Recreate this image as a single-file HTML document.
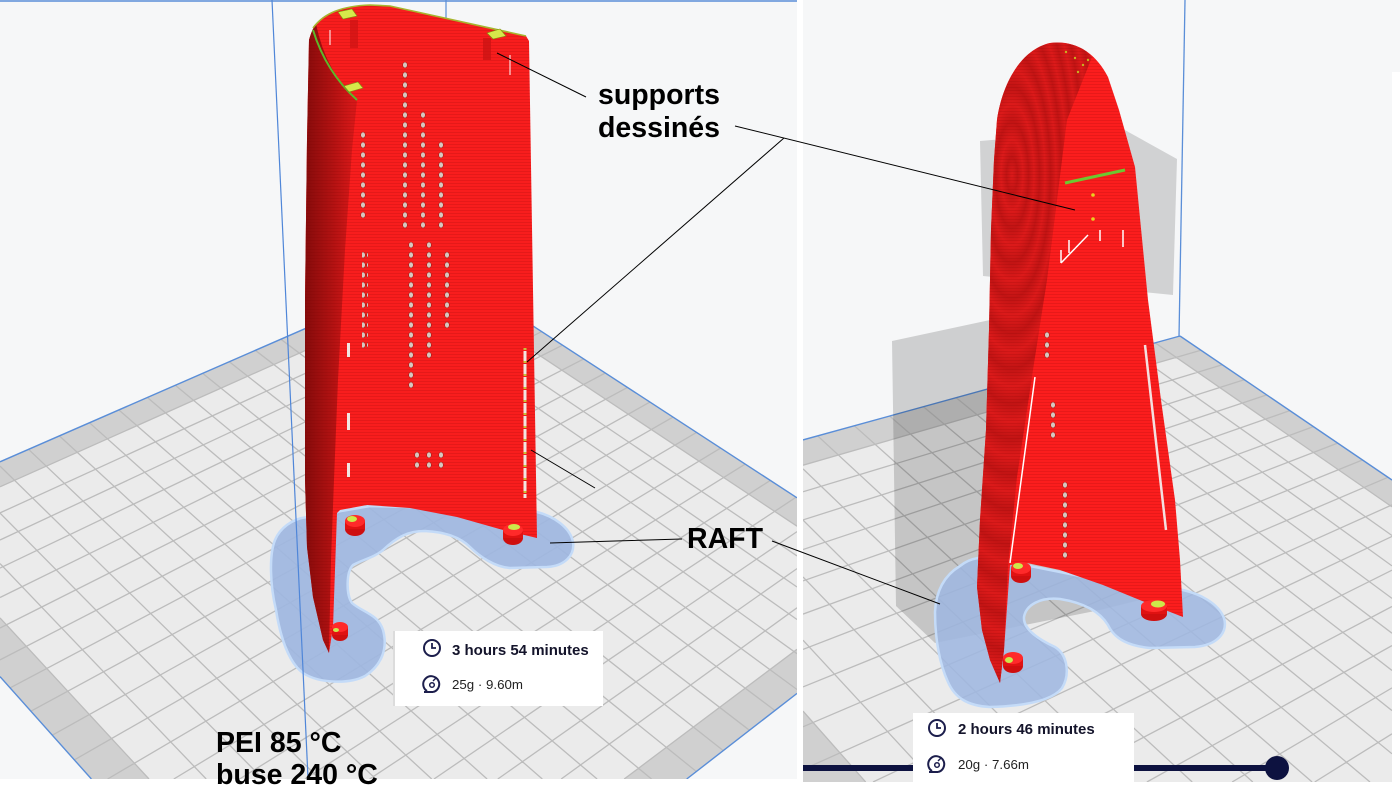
<!DOCTYPE html>
<html><head><meta charset="utf-8">
<style>html,body{margin:0;padding:0;background:#fff;overflow:hidden;width:1400px;height:806px}#wrap{width:1400px;height:806px;overflow:hidden;position:relative}svg{display:block}</style>
</head><body><div id="wrap">
<svg width="1400" height="806" viewBox="0 0 1400 806" overflow="hidden">
<defs>
<clipPath id="cl"><rect x="0" y="0" width="797" height="779"/></clipPath>
<clipPath id="cr"><rect x="803" y="0" width="589" height="782"/></clipPath>
<linearGradient id="wingL" gradientUnits="userSpaceOnUse" x1="305" y1="0" x2="352" y2="0">
<stop offset="0" stop-color="#860b0b"/><stop offset="0.6" stop-color="#b31212"/><stop offset="1" stop-color="#d51818"/></linearGradient>
<radialGradient id="rings" gradientUnits="userSpaceOnUse" cx="1012" cy="175" r="11" spreadMethod="repeat" gradientTransform="translate(1012 175) scale(1 3.2) translate(-1012 -175)">
<stop offset="0" stop-color="#dc1a1a"/><stop offset="0.5" stop-color="#c21414"/><stop offset="1" stop-color="#dc1a1a"/></radialGradient>
<pattern id="str" width="4" height="3" patternUnits="userSpaceOnUse"><rect width="4" height="1" fill="#700000" opacity="0.14"/></pattern>
<pattern id="hole" width="6" height="10" patternUnits="userSpaceOnUse"><ellipse cx="3" cy="5" rx="2.3" ry="2.9" fill="#d8c6bf" stroke="#8a1a10" stroke-width="0.5"/></pattern>
<pattern id="slot" width="6" height="13" patternUnits="userSpaceOnUse"><rect x="1.5" y="0" width="3" height="10" fill="#f2e6e2"/><rect x="1.5" y="10" width="3" height="2" fill="#c9c23a"/></pattern>
</defs>
<rect width="1400" height="806" fill="#ffffff"/>

<!-- ================= LEFT PANEL ================= -->
<g clip-path="url(#cl)">
<rect x="0" y="0" width="797" height="779" fill="#f6f7f8"/>
<line x1="0" y1="1" x2="797" y2="1" stroke="#5a8ed8" stroke-width="1.5"/>
<polygon points="0,462 444,268 797,498 797,693 687,779 91,779 0,677" fill="#e6e6e6"/>
<g id="pL"></g>
<line x1="446" y1="0" x2="446" y2="20" stroke="#5a8ed8" stroke-width="1.2"/>

<!-- raft -->
<path d="M307,517 L370,506 L450,508 L537,512 C553,516 570,527 573,542 C575,555 565,566 547,567 L510,568 C495,567 480,557 470,547 C460,537 445,532 425,531 C408,531 397,537 383,550 C375,557 362,560 353,565 C346,572 346,595 352,603 C362,612 378,614 383,630 C388,648 382,665 365,676 C350,684 320,684 303,673 C288,662 280,635 276,610 C270,585 269,555 275,540 C280,528 292,519 307,517 Z" fill="#9fb7e0" fill-opacity="0.93" stroke="#c4dbf8" stroke-width="2.5"/>
<line x1="272" y1="0" x2="308" y2="778" stroke="#4f86d8" stroke-width="1.2"/>

<!-- red object left -->
<path d="M309,40 C311,33 313,28 316,24 C324,13 342,6 370,5 L390,6 L526,36 L529,41 L537,538 L503,530 L457,517 L410,508 L367,505 L340,510 L337,513 L333,627 L329,653 L323,640 L313,597 L307,547 L305,480 L305,300 L307,140 Z" fill="#f81d1d"/>
<path d="M309,40 C311,33 313,28 316,24 Q326,72 357,100 L352,150 L345,250 L338,380 L334,480 L331,560 L329,653 L323,640 L313,597 L307,547 L305,480 L305,300 L307,140 Z" fill="url(#wingL)"/>
<path d="M309,40 C311,33 313,28 316,24 C324,13 342,6 370,5 L390,6 L526,36 L529,41 L537,538 L503,530 L457,517 L410,508 L367,505 L340,510 L337,513 L333,627 L329,653 L323,640 L313,597 L307,547 L305,480 L305,300 L307,140 Z" fill="url(#str)"/>
<path d="M313,28 C324,13 342,6 370,5 L390,6 L526,36" fill="none" stroke="#a7b52e" stroke-width="1.6"/>
<path d="M313,30 Q326,72 357,100" fill="none" stroke="#5db82a" stroke-width="2"/>
<rect x="483" y="38" width="8" height="22" fill="#c71212" opacity="0.7"/>
<rect x="350" y="20" width="8" height="28" fill="#c71212" opacity="0.6"/>
<path d="M338,12 L352,9 L357,16 L343,19 Z" fill="#d6e84a" stroke="#7d8f10" stroke-width="0.6"/>
<path d="M487,33 L500,29 L506,36 L493,39 Z" fill="#d6e84a" stroke="#7d8f10" stroke-width="0.6"/>
<path d="M344,86 L358,82 L363,88 L349,92 Z" fill="#d6e84a" stroke="#7d8f10" stroke-width="0.6"/>
<line x1="330" y1="30" x2="330" y2="45" stroke="#fff" stroke-width="1"/>
<line x1="510" y1="55" x2="510" y2="75" stroke="#fff" stroke-width="1"/>
<!-- holes -->
<rect x="402" y="60" width="6" height="170" fill="url(#hole)"/>
<rect x="420" y="110" width="6" height="120" fill="url(#hole)"/>
<rect x="438" y="140" width="6" height="90" fill="url(#hole)"/>
<rect x="360" y="130" width="6" height="90" fill="url(#hole)"/>
<rect x="408" y="240" width="6" height="150" fill="url(#hole)"/>
<rect x="426" y="240" width="6" height="120" fill="url(#hole)"/>
<rect x="444" y="250" width="6" height="80" fill="url(#hole)"/>
<rect x="362" y="250" width="6" height="100" fill="url(#hole)"/>
<rect x="414" y="450" width="6" height="20" fill="url(#hole)"/>
<rect x="426" y="450" width="6" height="20" fill="url(#hole)"/>
<rect x="438" y="450" width="6" height="20" fill="url(#hole)"/>
<rect x="522" y="348" width="6" height="150" fill="url(#slot)"/>
<rect x="347" y="343" width="3" height="14" fill="#f2e6e2"/>
<rect x="347" y="413" width="3" height="17" fill="#f2e6e2"/>
<rect x="347" y="463" width="3" height="14" fill="#f2e6e2"/>
<!-- nubs -->
<g>
<ellipse cx="355" cy="529" rx="10" ry="7" fill="#cf0f0f"/><rect x="345" y="521" width="20" height="8" fill="#e01212"/><ellipse cx="355" cy="521" rx="10" ry="6" fill="#ff2a2a"/><ellipse cx="352" cy="519" rx="5" ry="3" fill="#cde84a"/>
<ellipse cx="513" cy="538" rx="10" ry="7" fill="#cf0f0f"/><rect x="503" y="530" width="20" height="8" fill="#e01212"/><ellipse cx="513" cy="530" rx="10" ry="6" fill="#ff2a2a"/><ellipse cx="514" cy="527" rx="6" ry="3" fill="#cde84a"/>
<ellipse cx="340" cy="635" rx="8" ry="6" fill="#cf0f0f"/><rect x="332" y="627" width="16" height="8" fill="#e01212"/><ellipse cx="340" cy="627" rx="8" ry="5" fill="#ff2a2a"/><ellipse cx="336" cy="630" rx="3" ry="2" fill="#cde84a"/>
</g>
<!-- info box -->
<rect x="393" y="631" width="210" height="75" fill="#ffffff"/>
<rect x="393" y="631" width="2" height="75" fill="#dcdcdc"/>
<circle cx="432" cy="648" r="8" fill="none" stroke="#1c1e4c" stroke-width="2"/>
<path d="M432,643 V648 H436" fill="none" stroke="#1c1e4c" stroke-width="1.8"/>
<text x="452" y="655" font-family="Liberation Sans, Arial, sans-serif" font-weight="bold" font-size="15" fill="#14142b">3 hours 54 minutes</text>
<path d="M427,691 A8,8 0 1 1 433,692" fill="none" stroke="#1c1e4c" stroke-width="2"/>
<line x1="424" y1="692" x2="433" y2="692" stroke="#1c1e4c" stroke-width="2"/>
<circle cx="432" cy="685" r="2.3" fill="none" stroke="#1c1e4c" stroke-width="1.5"/>
<line x1="433" y1="681" x2="436" y2="678" stroke="#1c1e4c" stroke-width="1.4"/>
<text x="452" y="689" font-family="Liberation Sans, Arial, sans-serif" font-size="13.3" fill="#222">25g · 9.60m</text>
</g>

<!-- ================= RIGHT PANEL ================= -->
<g clip-path="url(#cr)">
<rect x="803" y="0" width="589" height="782" fill="#f6f7f8"/>
<polygon points="980,141 1123,129 1177,159 1173,295 983,276" fill="#000" fill-opacity="0.15"/>
<polygon points="803,440 1180,336 1392,480 1392,782 803,782" fill="#e6e6e6"/>
<g id="pR"></g>
<line x1="1185" y1="0" x2="1179" y2="337" stroke="#5a8ed8" stroke-width="1.3"/>
<polygon points="892,341 990,320 1140,300 1140,600 1100,610 935,643 896,606" fill="#000" fill-opacity="0.16"/>
<!-- raft -->
<path d="M978,558 L1030,566 L1100,580 L1183,590 C1200,594 1218,603 1224,618 C1228,632 1218,645 1195,647 L1150,648 C1130,646 1115,640 1108,625 C1100,612 1085,603 1060,599 C1040,597 1026,605 1024,617 C1023,630 1040,640 1055,647 C1068,655 1070,675 1062,688 C1052,701 1025,706 990,707 C968,706 955,698 948,682 C940,665 935,640 935,612 C936,590 945,575 960,566 C966,561 972,559 978,558 Z" fill="#9fb7e0" fill-opacity="0.88" stroke="#c4dbf8" stroke-width="2.5"/>
<!-- red object right -->
<path d="M1000,683 L990,660 L982,630 L977,587 L980,520 L986,430 L989,330 L991,230 L994,160 L997,120 C1002,85 1020,50 1050,43 C1075,40 1095,52 1108,77 L1119,110 L1135,167 L1148,300 L1161,400 L1175,500 L1180,560 L1183,617 L1147,603 L1103,585 L1060,570 L1027,563 L1010,565 L1004,650 Z" fill="#fb1d1d"/>
<path d="M1000,683 L990,660 L982,630 L977,587 L980,520 L986,430 L989,330 L991,230 L994,160 L997,120 C1002,85 1020,50 1050,43 C1070,41 1085,48 1092,57 L1067,120 L1047,280 L1033,370 L1017,477 L1008,566 L1004,650 Z" fill="url(#rings)"/>
<path d="M1000,683 L990,660 L982,630 L977,587 L980,520 L986,430 L989,330 L991,230 L994,160 L997,120 C1002,85 1020,50 1050,43 C1075,40 1095,52 1108,77 L1119,110 L1135,167 L1148,300 L1161,400 L1175,500 L1180,560 L1183,617 L1147,603 L1103,585 L1060,570 L1027,563 L1010,565 L1004,650 Z" fill="url(#str)"/>
<line x1="1035" y1="377" x2="1010" y2="563" stroke="#fff" stroke-width="1.5"/>
<line x1="1145" y1="345" x2="1166" y2="530" stroke="#f4e0e0" stroke-width="2.5"/>
<line x1="1061" y1="263" x2="1088" y2="235" stroke="#fff" stroke-width="1.5"/>
<line x1="1061" y1="250" x2="1061" y2="263" stroke="#fff" stroke-width="1.5"/>
<line x1="1069" y1="240" x2="1069" y2="253" stroke="#fff" stroke-width="1.5"/>
<line x1="1100" y1="230" x2="1100" y2="241" stroke="#fff" stroke-width="1.5"/>
<line x1="1123" y1="230" x2="1123" y2="247" stroke="#fff" stroke-width="1.5"/>
<line x1="1065" y1="183" x2="1125" y2="170" stroke="#6cc830" stroke-width="3"/>
<circle cx="1093" cy="195" r="1.8" fill="#e8d020"/><circle cx="1093" cy="219" r="1.8" fill="#e8d020"/>
<circle cx="1066" cy="52" r="1.2" fill="#c9b020"/><circle cx="1075" cy="58" r="1.2" fill="#c9b020"/><circle cx="1083" cy="65" r="1.2" fill="#c9b020"/><circle cx="1078" cy="72" r="1.2" fill="#c9b020"/><circle cx="1088" cy="60" r="1.2" fill="#c9b020"/>
<rect x="1044" y="330" width="6" height="30" fill="url(#hole)"/>
<rect x="1050" y="400" width="6" height="40" fill="url(#hole)"/>
<rect x="1062" y="480" width="6" height="80" fill="url(#hole)"/>
<!-- nubs -->
<ellipse cx="1021" cy="576" rx="10" ry="7" fill="#cf0f0f"/><rect x="1011" y="568" width="20" height="8" fill="#e01212"/><ellipse cx="1021" cy="568" rx="10" ry="6" fill="#ff2a2a"/><ellipse cx="1018" cy="566" rx="5" ry="3" fill="#cde84a"/>
<ellipse cx="1154" cy="614" rx="13" ry="7" fill="#cf0f0f"/><rect x="1141" y="606" width="26" height="8" fill="#e01212"/><ellipse cx="1154" cy="606" rx="13" ry="6" fill="#ff2a2a"/><ellipse cx="1158" cy="604" rx="7" ry="3.5" fill="#cde84a"/>
<ellipse cx="1013" cy="666" rx="10" ry="7" fill="#cf0f0f"/><rect x="1003" y="658" width="20" height="8" fill="#e01212"/><ellipse cx="1013" cy="658" rx="10" ry="6" fill="#ff2a2a"/><ellipse cx="1009" cy="660" rx="4" ry="3" fill="#cde84a"/>
<!-- slider -->
<line x1="803" y1="768" x2="1277" y2="768" stroke="#0d1240" stroke-width="6"/>
<circle cx="1277" cy="768" r="12" fill="#0d1240"/>
<!-- info box -->
<rect x="913" y="713" width="221" height="69" fill="#ffffff"/>
<circle cx="937" cy="728" r="8" fill="none" stroke="#1c1e4c" stroke-width="2"/>
<path d="M937,723 V728 H941" fill="none" stroke="#1c1e4c" stroke-width="1.8"/>
<text x="958" y="734" font-family="Liberation Sans, Arial, sans-serif" font-weight="bold" font-size="15" fill="#14142b">2 hours 46 minutes</text>
<path d="M932,771 A8,8 0 1 1 938,772" fill="none" stroke="#1c1e4c" stroke-width="2"/>
<line x1="929" y1="772" x2="938" y2="772" stroke="#1c1e4c" stroke-width="2"/>
<circle cx="937" cy="765" r="2.3" fill="none" stroke="#1c1e4c" stroke-width="1.5"/>
<line x1="938" y1="761" x2="941" y2="758" stroke="#1c1e4c" stroke-width="1.4"/>
<text x="958" y="769" font-family="Liberation Sans, Arial, sans-serif" font-size="13.3" fill="#222">20g · 7.66m</text>
</g>
<rect x="1392" y="0" width="8" height="72" fill="#f6f7f8"/>

<!-- leaders -->
<g stroke="#000" stroke-width="1" fill="none">
<line x1="586" y1="97" x2="497" y2="53"/>
<line x1="735" y1="126" x2="1075" y2="210"/>
<line x1="784" y1="138" x2="527" y2="362"/>
<line x1="531" y1="450" x2="595" y2="488"/>
<polyline points="682,539 615,541 550,543"/>
<line x1="772" y1="541" x2="940" y2="604"/>
</g>
<!-- labels -->
<g font-family="Liberation Sans, Arial, sans-serif" font-weight="bold" font-size="28.5" fill="#000">
<text x="598" y="104">supports</text>
<text x="598" y="137">dessinés</text>
<text x="687" y="548">RAFT</text>
<text x="216" y="752">PEI 85 °C</text>
<text x="216" y="784">buse 240 °C</text>
</g>
</svg>
</div>
<script>
(function(){
function H(P){var x0=P[0][0],y0=P[0][1],x1=P[1][0],y1=P[1][1],x2=P[2][0],y2=P[2][1],x3=P[3][0],y3=P[3][1];
var dx1=x1-x2,dx2=x3-x2,dx3=x0-x1+x2-x3,dy1=y1-y2,dy2=y3-y2,dy3=y0-y1+y2-y3;
var den=dx1*dy2-dx2*dy1;var g=(dx3*dy2-dx2*dy3)/den,h=(dx1*dy3-dx3*dy1)/den;
var a=x1-x0+g*x1,b=x3-x0+h*x3,c=x0,d=y1-y0+g*y1,e=y3-y0+h*y3,f=y0;
return function(u,v){var w=g*u+h*v+1;return [(a*u+b*v+c)/w,(d*u+e*v+f)/w];};}
function fmt(p){return p[0].toFixed(1)+','+p[1].toFixed(1);}
function clipPoly(pts,r){
  var edges=[function(p){return p[0]>=r[0];},function(p){return p[0]<=r[2];},function(p){return p[1]>=r[1];},function(p){return p[1]<=r[3];}];
  var isect=[
    function(a,b){var t=(r[0]-a[0])/(b[0]-a[0]);return [r[0],a[1]+t*(b[1]-a[1])];},
    function(a,b){var t=(r[2]-a[0])/(b[0]-a[0]);return [r[2],a[1]+t*(b[1]-a[1])];},
    function(a,b){var t=(r[1]-a[1])/(b[1]-a[1]);return [a[0]+t*(b[0]-a[0]),r[1]];},
    function(a,b){var t=(r[3]-a[1])/(b[1]-a[1]);return [a[0]+t*(b[0]-a[0]),r[3]];}];
  var out=pts;
  for(var k=0;k<4;k++){var inp=out;out=[];if(!inp.length)break;
    for(var i=0;i<inp.length;i++){var cur=inp[i],prev=inp[(i+inp.length-1)%inp.length];
      var ci=edges[k](cur),pi=edges[k](prev);
      if(ci){if(!pi)out.push(isect[k](prev,cur));out.push(cur);}
      else if(pi){out.push(isect[k](prev,cur));}}}
  return out;}
function clipLine(p,q,r){var t0=0,t1=1,dx=q[0]-p[0],dy=q[1]-p[1];
  var P=[-dx,dx,-dy,dy],Q=[p[0]-r[0],r[2]-p[0],p[1]-r[1],r[3]-p[1]];
  for(var i=0;i<4;i++){if(P[i]===0){if(Q[i]<0)return null;}else{var t=Q[i]/P[i];
    if(P[i]<0){if(t>t1)return null;if(t>t0)t0=t;}else{if(t<t0)return null;if(t<t1)t1=t;}}}
  return [[p[0]+t0*dx,p[1]+t0*dy],[p[0]+t1*dx,p[1]+t1*dy]];}
function plate(id,P,N,bw,r){var m=H(P),t=bw/N,s='';
  var outerP=[m(0,0),m(1,0),m(1,1),m(0,1)];
  var o=clipPoly(outerP,r).map(fmt).join(' ');
  var inner=clipPoly([m(t,t),m(1-t,t),m(1-t,1-t),m(t,1-t)],r).map(fmt).join(' ');
  s+='<polygon points="'+o+'" fill="#d0d0d0"/>';
  if(inner)s+='<polygon points="'+inner+'" fill="#ebebeb"/>';
  var d='';
  function addL(a,b){var c=clipLine(a,b,r);if(c)d+='M'+fmt(c[0])+'L'+fmt(c[1]);}
  for(var i=1;i<N;i++){var u=i/N;addL(m(u,0),m(u,1));addL(m(0,u),m(1,u));}
  s+='<path d="'+d+'" fill="none" stroke="#bcbcbc" stroke-width="1.3"/>';
  for(var j=0;j<4;j++){addE(outerP[j],outerP[(j+1)%4]);}
  function addE(a,b){var c=clipLine(a,b,r);if(c)s+='<line x1="'+c[0][0].toFixed(1)+'" y1="'+c[0][1].toFixed(1)+'" x2="'+c[1][0].toFixed(1)+'" y2="'+c[1][1].toFixed(1)+'" stroke="#5a8ed8" stroke-width="1.4"/>';}
  document.getElementById(id).innerHTML=s;}
plate('pL',[[-138,522],[444,268],[934,587],[335,1052]],21,1,[0,0,797,779]);
plate('pR',[[563,506],[1180,336],[1651,656],[1047,1081]],18,1,[803,0,1392,782]);
})();
</script>
</body></html>
